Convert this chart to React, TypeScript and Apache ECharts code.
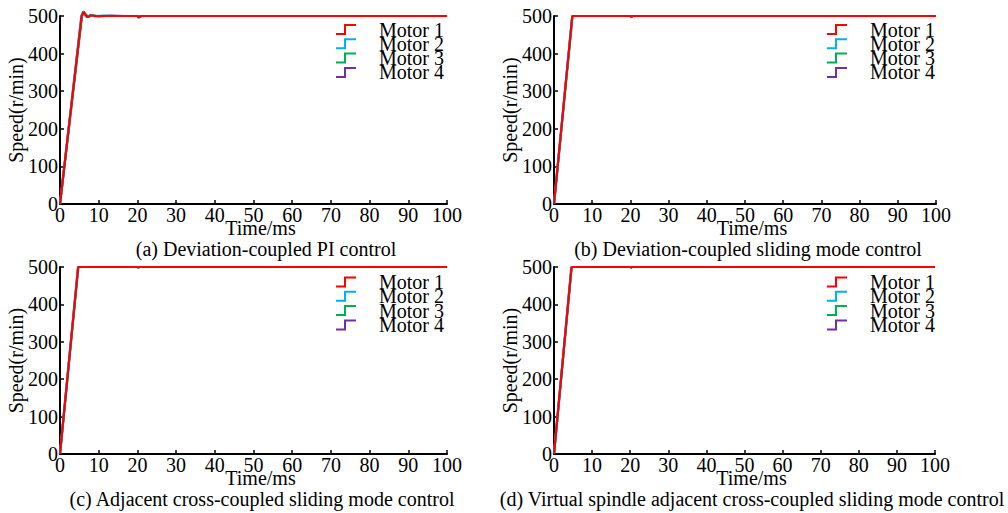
import React, { useEffect, useRef } from "react";
import * as echarts from "echarts";

const motorNames = ["Motor 1", "Motor 2", "Motor 3", "Motor 4"];
const motorColors = ["#ff0000", "#00b0f0", "#00b050", "#7030a0"];
const xTicks = { min: 0, max: 100, interval: 10 };
const yTicks = { min: 0, max: 500, interval: 100 };
const captions = [
  "(a) Deviation-coupled PI control",
  "(b) Deviation-coupled sliding mode control",
  "(c) Adjacent cross-coupled sliding mode control",
  "(d) Virtual spindle adjacent cross-coupled sliding mode control",
];

// (a) Deviation-coupled PI control: [time ms, speed r/min]
const piMotor1 = [[0, 0], [5.6, 500], [6.1, 511], [6.6, 503], [7.2, 497], [8, 502], [9, 500], [20, 500], [20.3, 497], [21, 500], [100, 500]];
const piMotor2 = [[0, 0], [5.5, 500], [6.0, 513], [6.5, 502], [7.0, 496], [7.8, 503], [9, 499], [11, 501], [14, 500], [20, 500], [20.3, 496], [21, 500], [100, 500]];
const piMotor3 = [[0, 0], [5.7, 500], [6.2, 509], [6.7, 504], [7.3, 498], [8.2, 502], [10, 500], [20, 500], [20.3, 497], [21, 500], [100, 500]];
const piMotor4 = [[0, 0], [5.6, 500], [6.1, 512], [6.6, 501], [7.1, 497], [8, 502], [10, 499], [13, 501], [17, 500], [20, 500], [20.3, 496], [21, 500], [100, 500]];

// (b) Deviation-coupled sliding mode control
const dsmMotor1 = [[0, 0], [4.8, 500], [20, 500], [20.2, 498], [20.6, 500], [100, 500]];
const dsmMotor2 = [[0, 0], [4.75, 500], [20, 500], [20.2, 498], [20.6, 500], [100, 500]];
const dsmMotor3 = [[0, 0], [4.85, 500], [20, 500], [20.2, 498], [20.6, 500], [100, 500]];
const dsmMotor4 = [[0, 0], [4.8, 500], [20, 500], [20.2, 498], [20.6, 500], [100, 500]];

// (c) Adjacent cross-coupled sliding mode control
const acsmMotor1 = [[0, 0], [4.7, 500], [20, 500], [20.2, 499], [20.5, 500], [100, 500]];
const acsmMotor2 = [[0, 0], [4.65, 500], [20, 500], [20.2, 499], [20.5, 500], [100, 500]];
const acsmMotor3 = [[0, 0], [4.75, 500], [20, 500], [20.2, 499], [20.5, 500], [100, 500]];
const acsmMotor4 = [[0, 0], [4.7, 500], [20, 500], [20.2, 499], [20.5, 500], [100, 500]];

// (d) Virtual spindle adjacent cross-coupled sliding mode control
const vsMotor1 = [[0, 0], [4.6, 500], [20, 500], [20.2, 499], [20.5, 500], [100, 500]];
const vsMotor2 = [[0, 0], [4.55, 500], [20, 500], [20.2, 499], [20.5, 500], [100, 500]];
const vsMotor3 = [[0, 0], [4.65, 500], [20, 500], [20.2, 499], [20.5, 500], [100, 500]];
const vsMotor4 = [[0, 0], [4.6, 500], [20, 500], [20.2, 499], [20.5, 500], [100, 500]];

const panelData = [
  [piMotor1, piMotor2, piMotor3, piMotor4],
  [dsmMotor1, dsmMotor2, dsmMotor3, dsmMotor4],
  [acsmMotor1, acsmMotor2, acsmMotor3, acsmMotor4],
  [vsMotor1, vsMotor2, vsMotor3, vsMotor4],
];

const FONT = "'Liberation Serif', 'Times New Roman', serif";

const grids = [
  { left: 60, top: 16, width: 387, height: 188 },
  { left: 554, top: 16, width: 382, height: 188 },
  { left: 60, top: 267, width: 387, height: 187 },
  { left: 554, top: 267, width: 381, height: 187 },
];
const legendPos = [
  { left: 336, top: 19.5 },
  { left: 827, top: 19.5 },
  { left: 336, top: 272 },
  { left: 827, top: 272 },
];
const captionPos = [
  { x: 266, y: 249 },
  { x: 748, y: 249 },
  { x: 262, y: 499 },
  { x: 752, y: 499 },
];

const STEP_ICON = "path://M0,9 L8,9 L8,0 L20,0 L20,2 L10,2 L10,11 L0,11 Z";

export default function App() {
  const ref = useRef<HTMLDivElement>(null);
  useEffect(() => {
    if (!ref.current) return;
    const chart = echarts.init(ref.current, undefined, { renderer: "svg" });
    const axisLine = { show: true, lineStyle: { color: "#000", width: 2 } };
    const xAxis = grids.map((_, i) => ({
      type: "value",
      gridIndex: i,
      ...xTicks,
      name: "Time/ms",
      nameLocation: "middle",
      nameGap: 14,
      nameMoveOverlap: false,
      nameTextStyle: { fontFamily: FONT, fontSize: 20, color: "#000", padding: [0, 0, 0, 14], verticalAlign: "top" },
      axisLine,
      axisTick: { show: true, inside: true, length: 4, lineStyle: { color: "#000", width: 1.5 } },
      axisLabel: { fontFamily: FONT, fontSize: 20, color: "#000", margin: 1 },
      splitLine: { show: false },
    }));
    const yAxis = grids.map((_, i) => ({
      type: "value",
      gridIndex: i,
      ...yTicks,
      name: "Speed(r/min)",
      nameLocation: "middle",
      nameGap: 34,
      nameMoveOverlap: false,
      nameTextStyle: { fontFamily: FONT, fontSize: 20, color: "#000" },
      axisLine,
      axisTick: { show: true, inside: true, length: 4, lineStyle: { color: "#000", width: 1.5 } },
      axisLabel: { fontFamily: FONT, fontSize: 20, color: "#000", margin: 2 },
      splitLine: { show: false },
    }));
    const series: any[] = [];
    panelData.forEach((motors, p) => {
      motors.forEach((data, m) => {
        series.push({
          type: "line",
          name: motorNames[m],
          xAxisIndex: p,
          yAxisIndex: p,
          data,
          showSymbol: false,
          symbol: "none",
          clip: false,
          z: 10 - m,
          lineStyle: { color: motorColors[m], width: 2.2 },
          itemStyle: { color: motorColors[m] },
        });
      });
    });
    const legend = legendPos.map((pos) => ({
      orient: "vertical",
      left: pos.left,
      top: pos.top,
      padding: 0,
      itemGap: -5.7,
      itemWidth: 20,
      itemHeight: 11,
      icon: STEP_ICON,
      symbolKeepAspect: false,
      itemStyle: { borderWidth: 0 },
      data: motorNames,
      selectedMode: false,
      textStyle: { fontFamily: FONT, fontSize: 20, color: "#000", padding: [0, 0, 0, 18] },
    }));
    const graphic = captions.map((text, i) => ({
      type: "text",
      x: captionPos[i].x,
      y: captionPos[i].y,
      style: { text, fontFamily: FONT, fontSize: 20, fill: "#000", textAlign: "center", textVerticalAlign: "middle" },
    }));
    chart.setOption({
      animation: false,
      backgroundColor: "#fff",
      grid: grids.map((g) => ({ ...g, containLabel: false })),
      xAxis,
      yAxis,
      legend,
      series,
      graphic,
    });
    return () => chart.dispose();
  }, []);
  return <div ref={ref} style={{ position: "fixed", left: 0, top: 0, width: 1008, height: 513 }} />;
}
